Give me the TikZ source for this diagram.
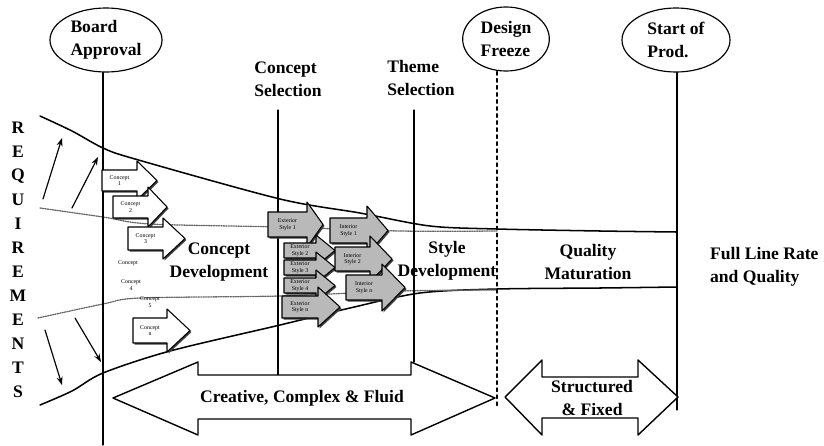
\documentclass[tikz,border=0pt]{standalone}
\usepackage{fontspec}
\setmainfont{Liberation Serif}
\usetikzlibrary{shapes.geometric, arrows.meta}

% block arrow: [style]{left x}{top y}{back of head x}{bottom y}{tip x}{overhang}{name}{text}
\newcommand{\blockarrow}[9][]{%
  \fill[black!75, shift={(1.5,1.5)}] (#2,#3) -- (#4,#3) -- (#4,{#3-#7}) -- (#6,{(#3+#5)/2}) -- (#4,{#5+#7}) -- (#4,#5) -- (#2,#5) -- cycle;
  \draw[#1] (#2,#3) -- (#4,#3) -- (#4,{#3-#7}) -- (#6,{(#3+#5)/2}) -- (#4,{#5+#7}) -- (#4,#5) -- (#2,#5) -- cycle;
  \node[arrowtext] (#8) at ({(#2+#4)/2},{(#3+#5)/2}) {#9};%
}

\tikzset{
  milestone/.style={draw, ellipse, line width=1pt, align=left, inner sep=1pt},
  gate/.style={align=left},
  phase/.style={align=center},
  funnel/.style={line width=1.3pt},
  band/.style={densely dotted, line width=1.1pt, black!60},
  reqarrow/.style={-{Stealth[length=7pt, width=5pt]}, line width=1pt},
  conceptarr/.style={draw, fill=white, line width=0.9pt},
  styarr/.style={draw, fill=gray!55, line width=0.9pt},
  arrowtext/.style={font=\fontsize{5}{5.5}\selectfont, align=center, inner sep=0pt},
  bigarrow/.style={draw, fill=white, line width=1.2pt},
}

\begin{document}
\begin{tikzpicture}[x=0.03cm, y=-0.03cm, line join=round, line cap=round, font=\fontsize{15}{19.5}\selectfont\bfseries]
  \useasboundingbox (0,0) rectangle (824,445);

  % Milestones
  \node[milestone, minimum width=3.36cm, minimum height=1.92cm] (board) at (106,40) {Board\\Approval};
  \node[milestone, minimum width=2.6cm, minimum height=1.92cm] (freeze) at (506,39) {Design\\Freeze};
  \node[milestone, minimum width=3.24cm, minimum height=1.92cm] (prod) at (676,40) {Start of\\Prod.};
  \node[gate] (csel) at (288,79) {Concept\\Selection};
  \node[gate] (tsel) at (421,78) {Theme\\Selection};

  % Ends of the milestone lines
  \coordinate (boardEnd) at (103,445);
  \coordinate (cselTop) at (278,110);
  \coordinate (cselEnd) at (278,375);
  \coordinate (tselTop) at (414,110);
  \coordinate (tselEnd) at (414,362);
  \coordinate (freezeEnd) at (497,408);
  \coordinate (prodEnd) at (677,410);

  % Funnel
  \draw[funnel] plot[smooth, tension=0.5] coordinates {(40,116) (72,131) (103,148) (135,159) (280,199) (360,213) (430,226) (497,229) (600,231) (677,232)};
  \draw[funnel] plot[smooth, tension=0.5] coordinates {(40,405) (72,391) (103,373) (170,351) (280,325) (350,308) (420,293) (497,289) (600,288) (677,287)};
  \draw[band] plot[smooth, tension=0.5] coordinates {(40,208) (103,217) (150,224) (280,227) (400,231) (497,231)};
  \draw[band] plot[smooth, tension=0.5] coordinates {(38,318) (103,304) (140,298) (280,296) (400,291) (497,290)};

  % Milestone lines
  \draw[line width=1.1pt] (board.south -| boardEnd) -- (boardEnd);
  \draw[line width=1.1pt] (cselTop) -- (cselEnd);
  \draw[line width=1.1pt] (tselTop) -- (tselEnd);
  \draw[line width=1.1pt, dashed] (freeze.south -| freezeEnd) -- (freezeEnd);
  \draw[line width=1.1pt] (prod.south -| prodEnd) -- (prodEnd);

  % Requirements
  \foreach \l [count=\i] in {R,E,Q,U,I,R,E,M,E,N,T,S}
    \node (req\i) at (18,{104+24*\i}) {\l};
  \draw[reqarrow] (43,199) -- (62,138);
  \draw[reqarrow] (72,208) -- (98,157);
  \draw[reqarrow] (45,330) -- (62,385);
  \draw[reqarrow] (75,318) -- (101,362);

  % Concepts
  \blockarrow[conceptarr]{102}{170}{137}{191}{157}{9}{c1}{Concept\\1}
  \blockarrow[conceptarr]{113}{196}{148}{218}{167}{9}{c2}{Concept\\2}
  \blockarrow[conceptarr]{128}{227}{163}{250}{185}{9}{c3}{Concept\\3}
  \node[arrowtext] (c4) at (128,263) {Concept};
  \node[arrowtext] (c5) at (131,285) {Concept\\4};
  \node[arrowtext] (c6) at (150,302) {Concept\\5};
  \blockarrow[conceptarr]{133}{318}{167}{343}{190}{9}{cn}{Concept\\n}

  % Exterior and interior styles
  \blockarrow[styarr]{268}{212}{307}{237}{323}{10}{e1}{Exterior\\Style 1}
  \blockarrow[styarr]{284}{243}{316}{258}{335}{8}{e2}{Exterior\\Style 2}
  \blockarrow[styarr]{284}{260}{316}{275}{335}{8}{e3}{Exterior\\Style 3}
  \blockarrow[styarr]{284}{278}{316}{293}{335}{8}{e4}{Exterior\\Style 4}
  \blockarrow[styarr]{282}{296}{318}{318}{340}{9}{en}{Exterior\\Style n}
  \blockarrow[styarr]{330}{218}{367}{243}{388}{12}{i1}{Interior\\Style 1}
  \blockarrow[styarr]{335}{247}{370}{271}{392}{11}{i2}{Interior\\Style 2}
  \blockarrow[styarr]{346}{275}{382}{300}{405}{11}{in}{Interior\\Style n}

  % Phases
  \node[phase] (cdev) at (219,262) {Concept\\Development};
  \node[phase] (sdev) at (447,261) {Style\\Development};
  \node[phase] (qmat) at (588,262) {Quality\\Maturation};
  \node[gate, anchor=west] (full) at (706,267) {Full Line Rate\\and Quality};

  % Bottom arrows
  \draw[bigarrow] (113,398) -- (198,362) -- (198,375) -- (411,375) -- (411,362) -- (495,398)
    -- (411,435) -- (411,419) -- (198,419) -- (198,435) -- cycle;
  \node (creative) at (302,398) {Creative, Complex \& Fluid};
  \draw[bigarrow] (505,397) -- (542,360) -- (542,377) -- (638,377) -- (638,360) -- (678,397)
    -- (638,435) -- (638,418) -- (542,418) -- (542,435) -- cycle;
  \node[phase] (fixed) at (592,398) {Structured\\\& Fixed};
\end{tikzpicture}
\end{document}
